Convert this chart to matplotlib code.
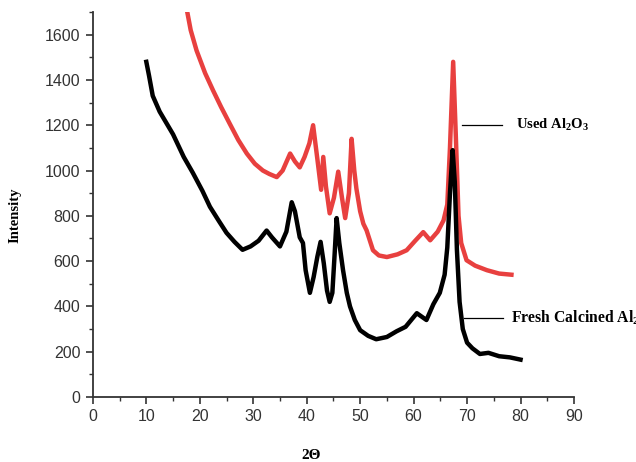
import matplotlib
matplotlib.use("Agg")
import matplotlib.pyplot as plt
from matplotlib.ticker import MultipleLocator

# Fresh calcined Al2O3 (black)
fresh_x = [10.0, 10.5, 11.2, 12.5, 15, 17, 18.7, 20.5, 21.9, 23.5, 25, 26.5, 28, 29.5, 31,
           32.5, 33.5, 35, 36.2, 37.2, 37.8, 38.7, 39.3, 39.8, 40.6, 41.3, 42.0, 42.6, 43.2,
           43.8, 44.3, 44.8, 45.2, 45.6, 46.1, 46.8, 47.5, 48.1, 49, 50, 51.5, 53, 55, 56.8,
           58.5, 60.6, 61.5, 62.4, 63.7, 64.9, 65.8, 66.3, 66.8, 67.3, 67.7, 68.1, 68.6,
           69.2, 70, 71, 72.4, 74, 76, 78, 80]
fresh_y = [1480, 1420, 1330, 1260, 1160, 1060, 990, 910, 840, 780, 725, 685, 650, 665, 690,
           735, 705, 665, 730, 860, 820, 705, 680, 560, 460, 530, 620, 685, 590,
           470, 420, 460, 620, 790, 680, 560, 460, 400, 340, 295, 270, 255, 265, 290,
           310, 370, 355, 340, 410, 460, 540, 660, 900, 1090, 950, 650, 420,
           300, 240, 215, 190, 195, 180, 175, 165]

# Used Al2O3 (red)
used_x = [17.5, 18.3, 19.4, 21, 22.5, 24, 25.6, 27.2, 28.8, 30.3, 31.8, 33, 34.4, 35.5, 36.9,
          37.8, 38.7, 39.6, 40.5, 41.2, 42.0, 42.7, 43.1, 43.6, 44.3, 45.1, 45.9, 46.6, 47.2,
          47.9, 48.4, 48.9, 49.3, 50.0, 50.6, 51.2, 52.4, 53.5, 55, 57, 58.7, 60.3, 61.8,
          63.1, 64.5, 65.6, 66.3, 66.8, 67.4, 67.9, 68.4, 68.9, 69.9, 71.5, 73.7, 76, 78.3]
used_y = [1720, 1620, 1530, 1430, 1353, 1280, 1207, 1135, 1075, 1030, 1000, 985, 971, 1000, 1075,
          1040, 1014, 1060, 1120, 1200, 1050, 915, 1060, 930, 811, 880, 995, 880, 790,
          900, 1140, 1000, 920, 820, 765, 736, 648, 625, 618, 630, 648, 690, 728,
          692, 730, 780, 850, 1100, 1480, 1150, 800, 680, 604, 580, 560, 545, 540]

plt.rcParams['mathtext.fontset'] = 'custom'
plt.rcParams['mathtext.rm'] = 'Liberation Serif:bold'
plt.rcParams['mathtext.it'] = 'Liberation Serif:bold'
plt.rcParams['mathtext.bf'] = 'Liberation Serif:bold'

fig = plt.figure(figsize=(6.36, 4.62), dpi=100)
ax = fig.add_axes([0.146, 0.1407, 0.7565, 0.8333])

ax.plot(used_x, used_y, color='#e8403f', lw=3.2, solid_joinstyle='round')
ax.plot(fresh_x, fresh_y, color='black', lw=3.2, solid_joinstyle='round')

ax.set_xlim(0, 90)
ax.set_ylim(0, 1700)
ax.xaxis.set_major_locator(MultipleLocator(10))
ax.xaxis.set_minor_locator(MultipleLocator(5))
ax.yaxis.set_major_locator(MultipleLocator(200))
ax.yaxis.set_minor_locator(MultipleLocator(100))

for s in ['top', 'right']:
    ax.spines[s].set_visible(False)
for s in ['left', 'bottom']:
    ax.spines[s].set_linewidth(1.3)
    ax.spines[s].set_color('#333333')

ax.tick_params(which='major', length=5, width=1.2, color='#333333',
               labelsize=11.5, labelcolor='#333333', direction='out', pad=4)
ax.tick_params(which='minor', length=3, width=1.0, color='#333333', direction='out')
for lab in ax.get_xticklabels() + ax.get_yticklabels():
    lab.set_family('Liberation Sans')

fig.text(0.023, 0.535, 'Intensity', rotation=90, ha='center', va='center',
         family='Liberation Serif', fontweight='bold', fontsize=10.5)
fig.text(0.489, 0.013, '2Θ', ha='center', va='center',
         family='Liberation Serif', fontweight='bold', fontsize=11)

# label leader lines
ax.plot([69.05, 76.5], [1203, 1203], color='black', lw=0.9, clip_on=False)
ax.plot([69.4, 76.7], [348, 348], color='black', lw=0.9, clip_on=False)
ax.text(79.2, 1203, r'Used Al$_2$O$_3$', ha='left', va='center',
        family='Liberation Serif', fontweight='bold', fontsize=10.5, clip_on=False)
ax.text(78.2, 348, r'Fresh Calcined Al$_2$O$_3$', ha='left', va='center',
        family='Liberation Serif', fontweight='bold', fontsize=11.3, clip_on=False)

fig.savefig('out.png', dpi=100)
